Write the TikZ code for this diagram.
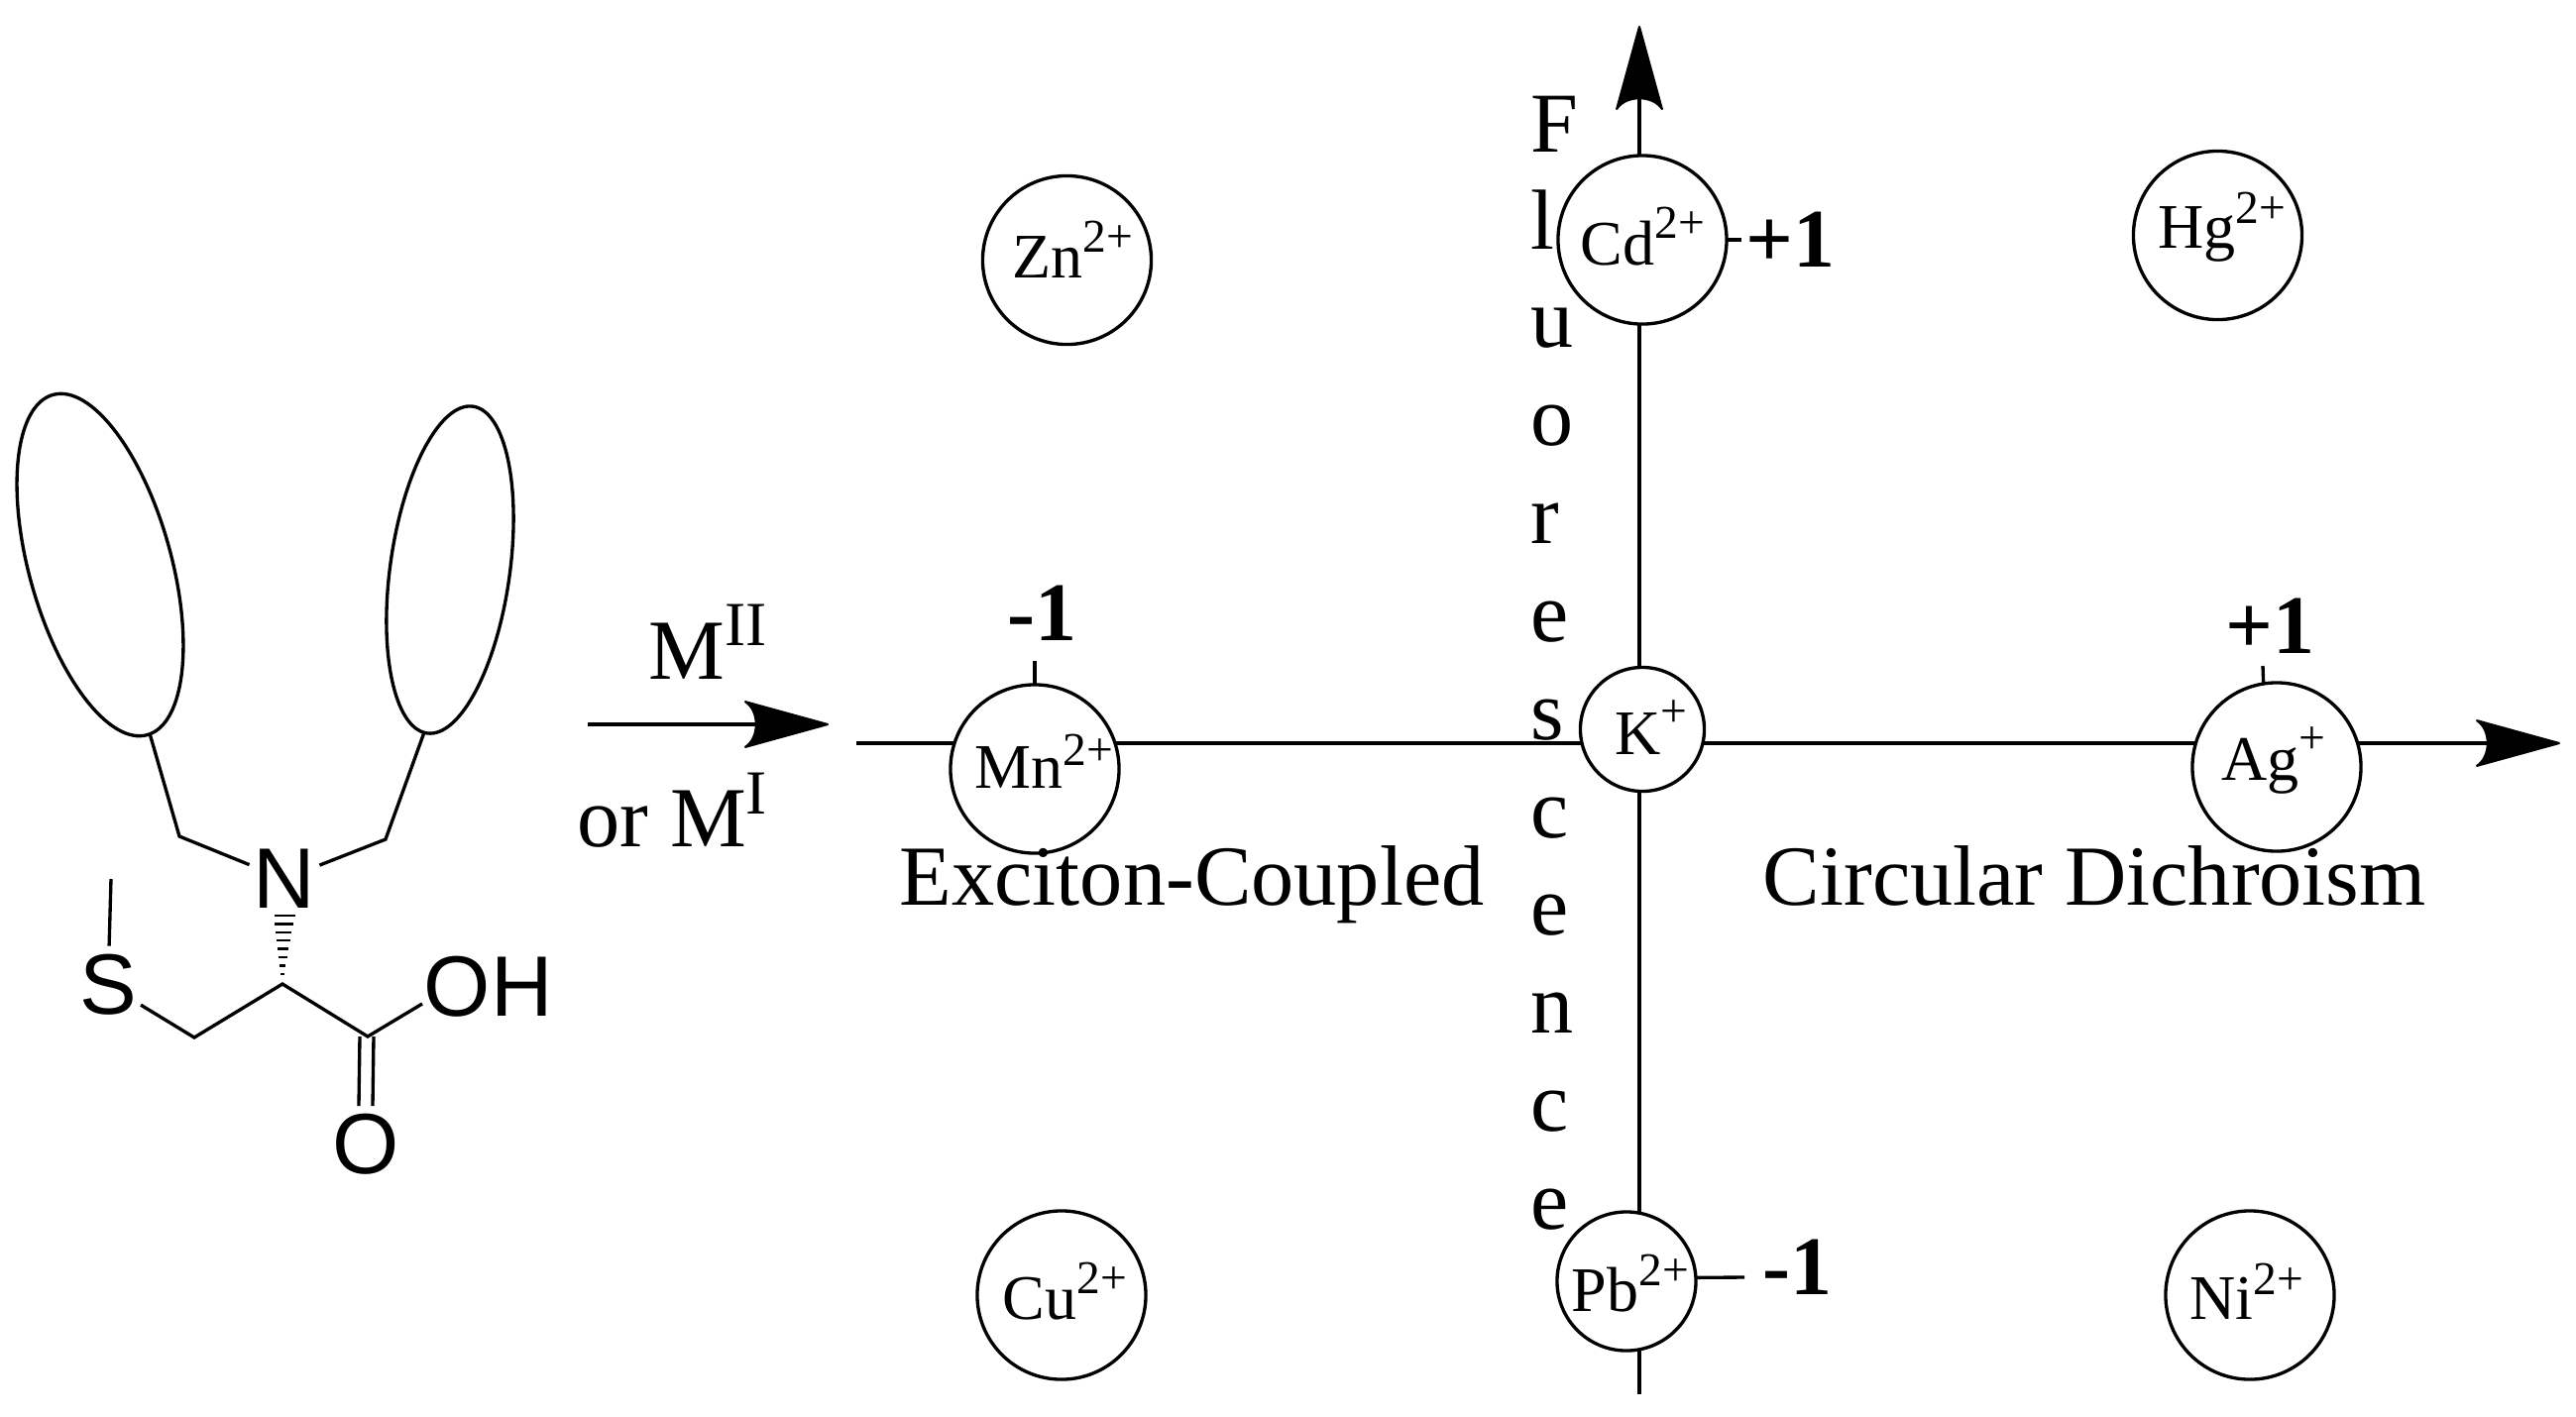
\documentclass[tikz,border=0pt]{standalone}
\usepackage{fontspec}
\setmainfont{Liberation Serif}
\newfontfamily\chemfont{Liberation Sans}
\usetikzlibrary{arrows.meta,shapes.geometric}
\newlength\pxlen
\setlength\pxlen{0.01cm}
\newcommand\ionsup[2]{{\fontsize{13.5}{13.5}\selectfont\raisebox{#1\pxlen}{#2}}}
\newcommand\bigsup[2]{{\fontsize{18}{18}\selectfont\raisebox{#1\pxlen}{#2}}}
\pgfdeclarearrow{
  name=SweptHead,
  setup code={
    \pgfarrowssettipend{0pt}
    \pgfarrowssetlineend{-19pt}
    \pgfarrowssetvisualbackend{-20pt}
    \pgfarrowssetbackend{-23.6pt}
    \pgfarrowsupperhullpoint{0pt}{0pt}
    \pgfarrowsupperhullpoint{-23.6pt}{6.5pt}
  },
  drawing code={
    \pgfpathmoveto{\pgfqpoint{0pt}{0pt}}
    \pgfpathlineto{\pgfqpoint{-23.6pt}{6.5pt}}
    \pgfpathcurveto{\pgfqpoint{-19.5pt}{3.8pt}}{\pgfqpoint{-19.5pt}{-3.8pt}}{\pgfqpoint{-23.6pt}{-6.5pt}}
    \pgfpathclose
    \pgfsetlinewidth{0.6pt}
    \pgfsetroundjoin
    \pgfusepathqfillstroke
  },
}
\tikzset{
  x=0.01cm,y=-0.01cm,
  bond/.style={line width=0.95pt,line join=miter},
  axisline/.style={line width=0.95pt},
  bighead/.style={-{SweptHead}},
  ion/.style={circle,draw,fill=white,line width=0.95pt,inner sep=0pt,outer sep=0pt,minimum size=1.70cm},
  smallion/.style={ion,minimum size=1.40cm},
  tinyion/.style={ion,minimum size=1.25cm},
  ring/.style={ellipse,draw,line width=0.95pt,inner sep=0pt,outer sep=0pt},
  iontext/.style={anchor=base west,inner sep=0pt,font=\fontsize{18.21}{18.21}\selectfont},
  caption/.style={anchor=base west,inner sep=0pt,font=\fontsize{24.55}{28}\selectfont},
  signlabel/.style={anchor=base west,inner sep=0pt,font=\fontsize{23.9}{28}\selectfont\bfseries},
  atom/.style={inner sep=1pt,font=\chemfont\fontsize{24.6}{28}\selectfont},
}
\begin{document}
\begin{tikzpicture}
\useasboundingbox (0,0) rectangle (2599,1429);
% axes
\coordinate (hs) at (864,750);
\coordinate (he) at (2582,750);
\coordinate (vs) at (1654,1407);
\coordinate (ve) at (1654,27);
\draw[axisline,bighead] (hs) -- (he);
\draw[axisline,bighead] (vs) -- (ve);
% ion circles
\node[ion] (zn) at (1076.5,262.5) {};
\node[ion] (cd) at (1657,242) {};
\node[ion] (hg) at (2237.5,237.5) {};
\node[ion] (mn) at (1044,776) {};
\node[tinyion] (k) at (1657,736) {};
\node[ion] (ag) at (2297,774) {};
\node[ion] (cu) at (1071,1307) {};
\node[smallion] (pb) at (1641,1293) {};
\node[ion] (ni) at (2270,1307) {};
% ion labels
\node[iontext] (tzn) at (1021,280) {Zn\ionsup{26}{2+}};
\node[iontext] (tcd) at (1594,267) {Cd\ionsup{27}{2+}};
\node[iontext] (thg) at (2177,250) {Hg\ionsup{25}{2+}};
\node[iontext] (tmn) at (983,795) {Mn\ionsup{23}{2+}};
\node[iontext] (tk) at (1629,761) {K\ionsup{28}{+}};
\node[iontext] (tag) at (2241,787) {Ag\ionsup{27}{+}};
\node[iontext] (tcu) at (1011,1331) {Cu\ionsup{26}{2+}};
\node[iontext] (tpb) at (1585,1323) {Pb\ionsup{26}{2+}};
\node[iontext] (tni) at (2209,1331) {Ni\ionsup{25}{2+}};
% ticks and signs
\coordinate (tickcd) at (1757,242);
\coordinate (tickmn) at (1044,667);
\coordinate (tickag) at (2283,672);
\coordinate (tickpb) at (1760,1289);
\draw[axisline] (cd.east) -- (tickcd);
\draw[axisline] (mn.north) -- (tickmn);
\draw[axisline] (ag.99) -- (tickag);
\draw[axisline] (pb.3) -- (tickpb);
\node[signlabel] (scd) at (1761,269) {+1};
\node[signlabel] (smn) at (1016,646) {-1};
\node[signlabel] (sag) at (2245,659) {+1};
\node[signlabel] (spb) at (1778,1306) {-1};
% captions
\node[caption] (exc) at (907,913) {Exciton-Coupled};
\node[caption] (cdi) at (1778,913) {Circular Dichroism};
\node[anchor=north west,inner sep=0pt,align=left,font=\fontsize{24.47}{28.11}\selectfont] (fl) at (1544,96)
  {F\\l\\u\\o\\r\\e\\s\\c\\e\\n\\c\\e};
% reaction arrow
\coordinate (rs) at (593,731);
\coordinate (re) at (835,731);
\draw[axisline,bighead] (rs) -- (re);
\node[caption] (m2) at (654,685) {M\bigsup{34}{II}};
\node[caption] (m1) at (582,854) {or M\bigsup{33}{I}};
% molecule
\node[ring,minimum width=1.434cm,minimum height=3.56cm,rotate=15.5] (r1) at (101,570) {};
\node[ring,minimum width=1.206cm,minimum height=3.328cm,rotate=-8] (r2) at (454,575) {};
\node[atom] (n) at (287,887) {N};
\node[atom,inner ysep=8\pxlen] (s) at (109,994) {S};
\node[atom,anchor=base west,inner sep=0pt] (oh) at (427,1025) {OH};
\node[atom] (o) at (369,1155) {O};
\coordinate (r1a) at (151,740);
\coordinate (c1) at (181,844);
\coordinate (r2a) at (428,739);
\coordinate (c2) at (389,847);
\coordinate (ca) at (285,993);
\coordinate (cb) at (196,1047);
\coordinate (cc) at (371,1046);
\coordinate (me) at (112,887);
\coordinate (ohb) at (426,1013);
\coordinate (d1a) at (363,1046);
\coordinate (d1b) at (362,1116);
\coordinate (d2a) at (377,1046);
\coordinate (d2b) at (376,1116);
\draw[bond] (r1a) -- (c1) -- (n);
\draw[bond] (r2a) -- (c2) -- (n);
\draw[bond] (s) -- (cb) -- (ca) -- (cc) -- (ohb);
\draw[bond] (s) -- (me);
\draw[bond] (d1a) -- (d1b);
\draw[bond] (d2a) -- (d2b);
% hashed wedge
\foreach \i in {0,...,7}{
  \pgfmathsetmacro\yy{924+8.4*\i}
  \pgfmathsetmacro\xx{287-0.3*\i}
  \pgfmathsetmacro\hw{10.5-1.25*\i}
  \draw[line width=0.7pt] (\xx-\hw,\yy) -- (\xx+\hw,\yy);
}
\end{tikzpicture}
\end{document}
